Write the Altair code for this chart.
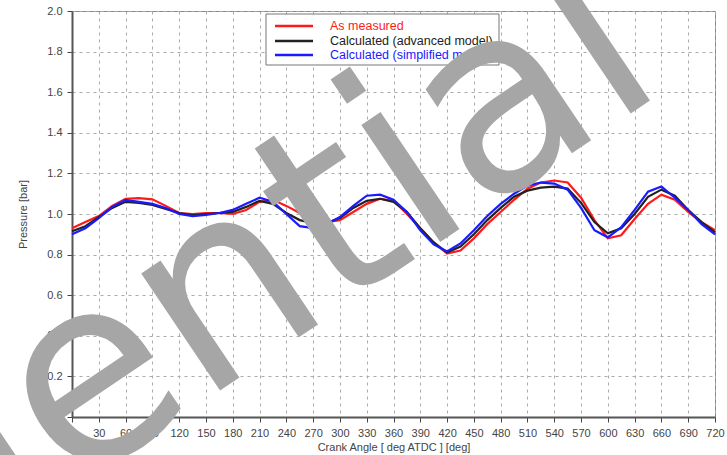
import altair as alt
import pandas as pd

angles = [0, 15, 30, 45, 60, 75, 90, 105, 120, 135, 150, 165, 180, 195, 210, 225, 240, 255,
          270, 285, 300, 315, 330, 345, 360, 375, 390, 405, 420, 435, 450, 465, 480, 495, 510,
          525, 540, 555, 570, 585, 600, 615, 630, 645, 660, 675, 690, 705, 720]

measured = [0.93, 0.96, 0.99, 1.04, 1.075, 1.078, 1.072, 1.04, 1.005, 1.00, 1.005, 1.005, 1.00,
            1.02, 1.06, 1.07, 1.04, 1.005, 0.975, 0.96, 0.97, 1.01, 1.05, 1.075, 1.065, 1.00,
            0.93, 0.86, 0.805, 0.82, 0.88, 0.95, 1.01, 1.07, 1.125, 1.155, 1.165, 1.155, 1.08,
            0.97, 0.88, 0.895, 0.975, 1.05, 1.095, 1.07, 1.01, 0.96, 0.92]

advanced = [0.915, 0.94, 0.985, 1.03, 1.06, 1.055, 1.045, 1.025, 1.005, 0.995, 1.00, 1.005, 1.01,
            1.035, 1.065, 1.05, 1.005, 0.97, 0.955, 0.955, 0.98, 1.03, 1.065, 1.075, 1.06, 1.01,
            0.93, 0.86, 0.81, 0.84, 0.90, 0.97, 1.03, 1.085, 1.115, 1.13, 1.135, 1.125, 1.055,
            0.96, 0.905, 0.93, 1.00, 1.085, 1.12, 1.09, 1.02, 0.96, 0.91]

simplified = [0.90, 0.93, 0.98, 1.035, 1.07, 1.06, 1.05, 1.03, 1.00, 0.99, 0.995, 1.005, 1.02,
              1.05, 1.08, 1.06, 1.00, 0.94, 0.93, 0.95, 0.985, 1.04, 1.09, 1.095, 1.07, 1.01,
              0.92, 0.85, 0.815, 0.855, 0.92, 0.99, 1.05, 1.10, 1.14, 1.155, 1.15, 1.12, 1.03,
              0.92, 0.885, 0.935, 1.02, 1.11, 1.135, 1.08, 1.02, 0.95, 0.90]

series_names = ["As measured", "Calculated (advanced model)", "Calculated (simplified model)"]
series_colors = ["#ff1a1a", "#222222", "#1a1aff"]

x_ticks = list(range(0, 721, 30))
y_ticks = [0.0, 0.2, 0.4, 0.6, 0.8, 1.0, 1.2, 1.4, 1.6, 1.8, 2.0]

x_title = "Crank Angle  [ deg ATDC ] [deg]"
y_title = "Pressure [bar]"
watermark_text = "Confidential"

rows = []
for name, vals in zip(series_names, [measured, advanced, simplified]):
    for a, v in zip(angles, vals):
        rows.append({"angle": a, "pressure": v, "series": name})
df = pd.DataFrame(rows)

W, H = 643, 406

lines = alt.Chart(df).mark_line(strokeWidth=2.2).encode(
    x=alt.X("angle:Q",
            scale=alt.Scale(domain=[0, 720], nice=False, zero=False),
            axis=alt.Axis(values=x_ticks, title=x_title, format="d")),
    y=alt.Y("pressure:Q",
            scale=alt.Scale(domain=[0, 2], nice=False),
            axis=alt.Axis(values=y_ticks, title=y_title, format=".1f")),
    color=alt.Color("series:N",
                    scale=alt.Scale(domain=series_names, range=series_colors),
                    legend=None),
    detail="series:N",
)

# legend box drawn manually so the watermark can lie on top of it
box = alt.Chart(pd.DataFrame({"k": [0]})).mark_rect(
    fill="white", stroke="#777777", strokeWidth=1
).encode(x=alt.value(194), x2=alt.value(427), y=alt.value(3), y2=alt.value(54))

legend_layers = [box]
row_y = [15, 30, 44]
for i, (name, color) in enumerate(zip(series_names, series_colors)):
    d = pd.DataFrame({"name": [name]})
    legend_layers.append(
        alt.Chart(d).mark_rule(color=color, strokeWidth=2.5).encode(
            x=alt.value(203), x2=alt.value(241), y=alt.value(row_y[i]))
    )
    legend_layers.append(
        alt.Chart(d).mark_text(color=color, align="left", baseline="middle",
                               fontSize=12.5, font="Liberation Sans").encode(
            x=alt.value(258), y=alt.value(row_y[i]), text="name:N")
    )

watermark = alt.Chart(pd.DataFrame({"label": [watermark_text]})).mark_text(
    angle=326, align="right", baseline="alphabetic", fontSize=258,
    font="DejaVu Sans", color="#a6a6a6"
).encode(x=alt.value(598), y=alt.value(76), text="label:N")

chart = alt.layer(lines, *legend_layers, watermark).properties(
    width=W, height=H,
    autosize=alt.AutoSizeParams(type="none"),
    padding={"left": 72, "top": 11, "right": 12, "bottom": 38},
    background="white",
).configure_view(
    stroke="#888888", strokeWidth=1
).configure_axis(
    grid=True, gridColor="#aaaaaa", gridDash=[3, 4], gridWidth=1,
    domainColor="#555555", domainWidth=2,
    tickColor="#444444", tickSize=5, tickWidth=1,
    labelFont="Liberation Sans", labelFontSize=11, labelColor="#444444",
    titleFont="Liberation Sans", titleFontSize=11, titleColor="#444444",
    titleFontWeight="normal", labelPadding=5,
).configure_axisY(
    titlePadding=18,
).configure_axisX(
    titlePadding=3, labelFlush=False,
)

chart.save("out.html", embed_options={"renderer": "svg", "actions": False})
